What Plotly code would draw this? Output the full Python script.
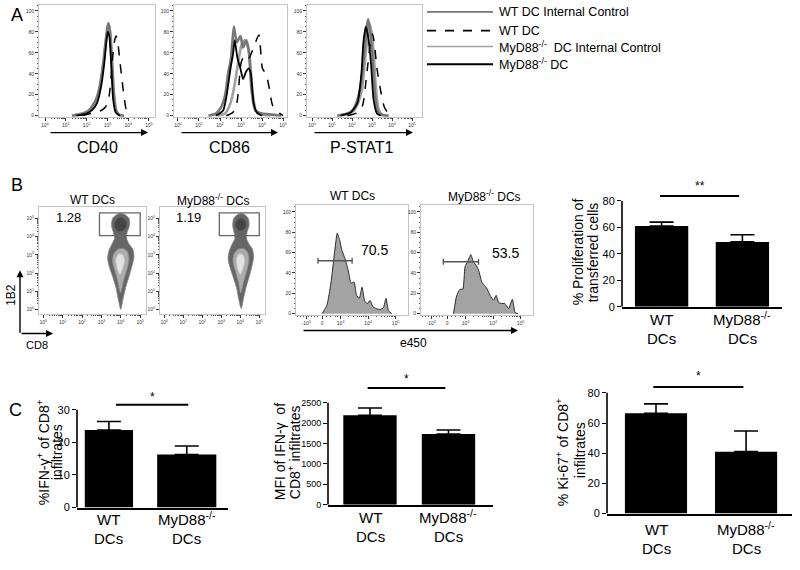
import math
import plotly.graph_objects as go

W, H = 800, 570
FONT = "Liberation Sans, Arial, Helvetica, sans-serif"

# ============================ DATA ============================
legend_names = ["WT DC Internal Control", "WT DC",
                "MyD88<sup>-/-</sup>  DC Internal Control", "MyD88<sup>-/-</sup> DC"]
panelA_markers = ["CD40", "CD86", "P-STAT1"]
decade_labels = ["10<sup>%d</sup>" % k for k in range(6)]
pct_ticks = [0, 20, 40, 60, 80, 100]

# Panel A histograms: x = log10 fluorescence, y = % of max
cd40_wt_ic_x = [1.3, 1.8, 2.1, 2.3, 2.5, 2.65, 2.8, 2.9, 3.0, 3.05, 3.12, 3.2, 3.3, 3.4, 3.55, 3.8]
cd40_wt_ic_y = [0, 2, 5, 10, 18, 30, 50, 68, 84, 88, 80, 55, 22, 6, 1, 0]
cd40_wt_dc_x = [1.8, 2.2, 2.5, 2.7, 2.9, 3.05, 3.15, 3.25, 3.35, 3.42, 3.5, 3.6, 3.7, 3.8, 3.9, 4.0, 4.1]
cd40_wt_dc_y = [0, 2, 4, 5, 8, 15, 30, 55, 72, 76, 70, 52, 35, 18, 6, 1, 0]
cd40_myd_ic_x = [1.3, 1.8, 2.1, 2.3, 2.5, 2.65, 2.8, 2.9, 3.0, 3.08, 3.15, 3.22, 3.32, 3.42, 3.55, 3.8]
cd40_myd_ic_y = [0, 2, 4, 9, 16, 28, 48, 66, 82, 87, 78, 55, 20, 5, 1, 0]
cd40_myd_dc_x = [1.5, 2.0, 2.3, 2.5, 2.7, 2.85, 2.95, 3.02, 3.1, 3.18, 3.28, 3.4, 3.6]
cd40_myd_dc_y = [0, 2, 6, 12, 28, 50, 70, 80, 75, 50, 15, 3, 0]

cd86_wt_ic_x = [1.45, 1.8, 2.05, 2.25, 2.4, 2.53, 2.66, 2.8, 2.97, 3.1, 3.25, 3.37, 3.5, 3.68, 4.0, 4.5, 4.9]
cd86_wt_ic_y = [0, 2, 8, 20, 42, 55, 85, 70, 76, 65, 72, 62, 25, 5, 2, 1, 0]
cd86_wt_dc_x = [2.3, 2.6, 2.75, 2.86, 3.0, 3.17, 3.37, 3.6, 3.85, 4.02, 4.19, 4.36, 4.5, 4.7, 4.86, 5.0]
cd86_wt_dc_y = [0, 3, 7, 20, 50, 58, 55, 65, 77, 45, 40, 25, 10, 5, 2, 0]
cd86_myd_ic_x = [1.9, 2.24, 2.5, 2.7, 2.86, 3.03, 3.17, 3.3, 3.42, 3.54, 3.71, 4.0, 4.4]
cd86_myd_ic_y = [0, 2, 12, 30, 50, 68, 72, 68, 55, 25, 5, 1, 0]
cd86_myd_dc_x = [1.8, 2.15, 2.32, 2.5, 2.63, 2.7, 2.83, 2.97, 3.1, 3.24, 3.37, 3.47, 3.6, 3.76, 4.0]
cd86_myd_dc_y = [0, 5, 20, 45, 60, 72, 55, 45, 35, 42, 45, 40, 12, 3, 0]

ps_wt_ic_x = [1.26, 1.77, 2.02, 2.27, 2.44, 2.61, 2.74, 2.81, 2.91, 3.03, 3.15, 3.28, 3.45, 3.8]
ps_wt_ic_y = [0, 2, 5, 15, 30, 60, 85, 92, 80, 55, 20, 5, 1, 0]
ps_wt_dc_x = [1.77, 2.27, 2.53, 2.74, 2.91, 3.03, 3.11, 3.25, 3.42, 3.62, 3.82, 3.95]
ps_wt_dc_y = [0, 3, 10, 40, 68, 78, 70, 45, 25, 8, 2, 0]
ps_myd_ic_x = [1.3, 1.8, 2.05, 2.3, 2.5, 2.66, 2.8, 2.87, 2.97, 3.08, 3.2, 3.33, 3.5, 3.85]
ps_myd_ic_y = [0, 2, 4, 12, 25, 55, 80, 88, 80, 60, 25, 6, 1, 0]
ps_myd_dc_x = [1.43, 1.94, 2.27, 2.47, 2.57, 2.69, 2.81, 2.95, 3.08, 3.25, 3.45]
ps_myd_dc_y = [0, 3, 12, 40, 70, 85, 75, 50, 15, 2, 0]

# Panel B flow plots (log10 CD8 vs log10 1B2), estimated population outlines
wt_outer_x = [4.0, 4.1, 4.25, 4.42, 4.58, 4.68, 4.62, 4.42, 4.3, 4.32, 4.45, 4.42, 4.22, 4.0, 3.78, 3.58, 3.52, 3.62, 3.68, 3.55, 3.38, 3.32, 3.42, 3.58, 3.75, 3.88, 4.0]
wt_outer_y = [0.0, 0.5, 1.2, 1.8, 2.4, 2.9, 3.3, 3.6, 3.9, 4.2, 4.6, 5.0, 5.2, 5.28, 5.2, 5.0, 4.6, 4.2, 3.9, 3.6, 3.2, 2.8, 2.3, 1.8, 1.2, 0.5, 0.0]
wt_mid_x = [3.98, 4.15, 4.32, 4.42, 4.35, 4.12, 3.85, 3.62, 3.58, 3.7, 3.85, 3.98]
wt_mid_y = [0.9, 1.6, 2.2, 2.75, 3.15, 3.35, 3.3, 3.0, 2.6, 2.1, 1.5, 0.9]
wt_inner_x = [3.95, 4.12, 4.2, 4.1, 3.9, 3.75, 3.78, 3.95]
wt_inner_y = [1.9, 2.3, 2.75, 3.0, 3.05, 2.8, 2.35, 1.9]
wt_clus_x = [3.7, 3.85, 4.05, 4.25, 4.3, 4.2, 4.0, 3.8, 3.68, 3.7]
wt_clus_y = [4.5, 4.3, 4.3, 4.45, 4.7, 4.95, 5.05, 4.95, 4.7, 4.5]

myd_outer_x = [4.05, 4.15, 4.3, 4.47, 4.62, 4.7, 4.64, 4.45, 4.33, 4.35, 4.46, 4.42, 4.24, 4.05, 3.85, 3.66, 3.6, 3.68, 3.72, 3.58, 3.42, 3.36, 3.46, 3.62, 3.8, 3.93, 4.05]
myd_outer_y = [0.05, 0.5, 1.2, 1.8, 2.4, 2.9, 3.3, 3.6, 3.9, 4.2, 4.6, 5.0, 5.2, 5.26, 5.2, 5.0, 4.6, 4.2, 3.9, 3.6, 3.2, 2.8, 2.3, 1.8, 1.2, 0.5, 0.05]
myd_mid_x = [4.02, 4.2, 4.36, 4.46, 4.38, 4.15, 3.88, 3.66, 3.62, 3.74, 3.9, 4.02]
myd_mid_y = [0.9, 1.6, 2.2, 2.75, 3.15, 3.35, 3.3, 3.0, 2.6, 2.1, 1.5, 0.9]
myd_inner_x = [4.0, 4.16, 4.24, 4.14, 3.94, 3.8, 3.82, 4.0]
myd_inner_y = [1.9, 2.3, 2.75, 3.0, 3.05, 2.8, 2.35, 1.9]
myd_clus_x = [3.78, 3.92, 4.1, 4.26, 4.3, 4.2, 4.03, 3.86, 3.76, 3.78]
myd_clus_y = [4.5, 4.35, 4.35, 4.48, 4.7, 4.92, 5.0, 4.92, 4.7, 4.5]

flow_titles = ["WT DCs", "MyD88<sup>-/-</sup> DCs"]
gate_x = [2.9, 5.0]
gate_y = [4.05, 5.3]
gate_pct = ["1.28", "1.19"]

# Panel B proliferation histograms (e450, display units)
e450_tickvals = [-0.25, 0.33, 1, 2, 3]
e450_ticktext = ["-10<sup>3</sup>", "0", "10<sup>3</sup>", "10<sup>4</sup>", "10<sup>5</sup>"]
wt_prolif_x = [0.33, 0.5, 0.65, 0.78, 0.88, 0.97, 1.05, 1.15, 1.28, 1.38, 1.49, 1.58, 1.68, 1.78, 1.88, 1.98, 2.07, 2.17, 2.3, 2.45, 2.56, 2.65, 2.74, 2.86]
wt_prolif_y = [0, 8, 30, 60, 79, 72, 62, 55, 42, 30, 31, 18, 15, 26, 12, 10, 13, 7, 5, 4, 6, 15, 3, 0]
myd_prolif_x = [0.56, 0.68, 0.8, 0.9, 0.98, 1.07, 1.19, 1.28, 1.37, 1.47, 1.59, 1.68, 1.77, 1.89, 2.01, 2.11, 2.2, 2.3, 2.42, 2.56, 2.7, 2.8, 2.9]
myd_prolif_y = [0, 18, 24, 24, 46, 51, 58, 51, 48, 43, 31, 28, 25, 18, 13, 18, 11, 10, 10, 5, 14, 1, 0]
prolif_gate_x = [[0.18, 1.42], [0.19, 1.47]]
prolif_gate_y = [52, 51]
prolif_pct = ["70.5", "53.5"]
prolif_pct_pos = [(2.25, 63), (2.44, 60)]

# Bar charts
bar_categories = [["WT", "DCs"], ["MyD88<sup>-/-</sup>", "DCs"]]
prolif_mean = [61, 49]
prolif_err = [3, 5.4]
ifng_pct_mean = [23.8, 16.3]
ifng_pct_err = [2.6, 2.6]
ifng_mfi_mean = [2190, 1730]
ifng_mfi_err = [180, 100]
ki67_mean = [66.5, 41]
ki67_err = [6.2, 13.7]
sig_labels = ["**", "*", "*", "*"]

# ============================ FIGURE ============================
fig = go.Figure()
layout = dict(width=W, height=H, margin=dict(l=0, r=0, t=0, b=0),
              paper_bgcolor="white", plot_bgcolor="white", showlegend=False,
              font=dict(family=FONT, color="black"))
shapes, annotations = [], []


def dx(l, r):
    return [l / W, r / W]


def dy(t, b):
    return [1 - b / H, 1 - t / H]


def ref(n):
    s = "" if n == 1 else str(n)
    return "x" + s, "y" + s


def name(n):
    s = "" if n == 1 else str(n)
    return "xaxis" + s, "yaxis" + s


log_minor = [d + math.log10(k) for d in range(0, 5) for k in range(2, 10)]


def flow_axis(dom, rng, anchor, tickvals, ticktext, minor_vals=None, minor_dtick=None):
    ax = dict(domain=dom, range=rng, anchor=anchor, showline=True, linecolor="#c4c4c4",
              linewidth=1, mirror=True, ticks="outside", ticklen=3, tickwidth=1,
              tickcolor="#333", tickvals=tickvals, ticktext=ticktext,
              tickfont=dict(size=5, color="#333"), showgrid=False, zeroline=False)
    if minor_vals is not None:
        ax["minor"] = dict(tickvals=minor_vals, ticks="outside", ticklen=1.5, tickcolor="#555")
    if minor_dtick is not None:
        ax["minor"] = dict(dtick=minor_dtick, ticks="outside", ticklen=1.5, tickcolor="#555")
    return ax


def text(x, y, t, size, angle=0, xa="center", ya="middle", color="black"):
    annotations.append(dict(x=x / W, y=1 - y / H, xref="paper", yref="paper", text=t,
                            showarrow=False, font=dict(size=size, color=color, family=FONT),
                            xanchor=xa, yanchor=ya, textangle=angle, borderpad=0))


def arrow(x0, y0, x1, y1):
    annotations.append(dict(x=x1 / W, y=1 - y1 / H, xref="paper", yref="paper", text="",
                            showarrow=True, ax=x0 - x1, ay=y0 - y1, arrowhead=2,
                            arrowsize=1, arrowwidth=1.4, arrowcolor="black"))


# ---------------- Panel A ----------------
series_colors = ["#777777", "#000000", "#a0a0a0", "#000000"]
series_dash = ["solid", "dash", "solid", "solid"]
series_width = [2.6, 1.5, 2.6, 1.8]
draw_order = [2, 0, 1, 3]

panelA_data = [
    [(cd40_wt_ic_x, cd40_wt_ic_y), (cd40_wt_dc_x, cd40_wt_dc_y), (cd40_myd_ic_x, cd40_myd_ic_y), (cd40_myd_dc_x, cd40_myd_dc_y)],
    [(cd86_wt_ic_x, cd86_wt_ic_y), (cd86_wt_dc_x, cd86_wt_dc_y), (cd86_myd_ic_x, cd86_myd_ic_y), (cd86_myd_dc_x, cd86_myd_dc_y)],
    [(ps_wt_ic_x, ps_wt_ic_y), (ps_wt_dc_x, ps_wt_dc_y), (ps_myd_ic_x, ps_myd_ic_y), (ps_myd_dc_x, ps_myd_dc_y)],
]
A_boxes = [(39, 155, [-0.29, 5.29]), (174, 287, [-0.19, 5.19]), (307, 422, [-0.25, 5.5])]
A_arrows = [(49, 148), (180, 278), (313, 413)]
A_label_x = [97, 230, 362]

for i in range(3):
    n = i + 1
    xn, yn = name(n)
    xr, yr = ref(n)
    l, r, xrange_ = A_boxes[i]
    layout[xn] = flow_axis(dx(l, r), xrange_, yr, list(range(6)), decade_labels, minor_vals=log_minor)
    layout[yn] = flow_axis(dy(5, 118), [-1, 105.6], xr, pct_ticks, [str(v) for v in pct_ticks], minor_dtick=5)
    for s in draw_order:
        xs, ys = panelA_data[i][s]
        fig.add_trace(go.Scatter(x=xs, y=ys, mode="lines", xaxis=xr, yaxis=yr,
                                 line=dict(color=series_colors[s], width=series_width[s],
                                           dash=series_dash[s], shape="spline", smoothing=0.6),
                                 hoverinfo="skip"))
    arrow(A_arrows[i][0], 134, A_arrows[i][1], 134)
    text(A_label_x[i], 149, panelA_markers[i], 16)

# legend for panel A
leg_y = [12, 31, 47, 65]
for s in range(4):
    shapes.append(dict(type="line", xref="paper", yref="paper", x0=427 / W, x1=493 / W,
                       y0=1 - leg_y[s] / H, y1=1 - leg_y[s] / H,
                       line=dict(color=series_colors[s], width=1.6 if s != 3 else 2,
                                 dash="dash" if s == 1 else "solid")))
    text(498, leg_y[s], legend_names[s], 12.5, xa="left")

text(17, 15, "A", 18)
text(17, 187, "B", 18)
text(15, 414, "C", 18)

# ---------------- Panel B flow dot plots ----------------
flow_sets = [
    (wt_outer_x, wt_outer_y, wt_mid_x, wt_mid_y, wt_inner_x, wt_inner_y, wt_clus_x, wt_clus_y),
    (myd_outer_x, myd_outer_y, myd_mid_x, myd_mid_y, myd_inner_x, myd_inner_y, myd_clus_x, myd_clus_y),
]
flow_boxes = [(39, 146), (160, 265)]
flow_title_x = [92, 213]
for i in range(2):
    n = 4 + i
    xn, yn = name(n)
    xr, yr = ref(n)
    l, r = flow_boxes[i]
    layout[xn] = flow_axis(dx(l, r), [-0.22, 5.3], yr, list(range(6)), decade_labels, minor_vals=log_minor)
    layout[yn] = flow_axis(dy(209, 317), [-0.23, 5.63], xr, list(range(6)), decade_labels, minor_vals=log_minor)
    ox, oy, mx, my, ix, iy, cx, cy = flow_sets[i]
    for xs, ys, fc, lc in [(ox, oy, "#666666", "#8a8a8a"), (cx, cy, "#444444", "#555555"),
                           (mx, my, "#ababab", "#8c8c8c"), (ix, iy, "#e2e2e2", "#bdbdbd")]:
        fig.add_trace(go.Scatter(x=xs, y=ys, mode="lines", fill="toself", fillcolor=fc,
                                 line=dict(color=lc, width=0.8, shape="spline", smoothing=0.8),
                                 xaxis=xr, yaxis=yr, hoverinfo="skip"))
    shapes.append(dict(type="rect", xref=xr, yref=yr, x0=gate_x[0], x1=gate_x[1],
                       y0=gate_y[0], y1=gate_y[1], line=dict(color="#666", width=1.3)))
    annotations.append(dict(x=1.3, y=5.05, xref=xr, yref=yr, text=gate_pct[i], showarrow=False,
                            font=dict(size=13, family=FONT, color="black")))
    text(flow_title_x[i], 202, flow_titles[i], 12)

arrow(20, 337, 20, 273)
arrow(20, 337, 53, 337)
text(11, 298, "1B2", 12, angle=-90)
text(37, 349, "CD8", 11)

# ---------------- Panel B proliferation histograms ----------------
e450_minor = [1 + math.log10(k) for k in range(2, 10)] + [2 + math.log10(k) for k in range(2, 10)] + \
             [-0.55, -0.45, -0.35, -0.15, -0.05, 0.05, 0.15, 0.5, 0.65, 0.8, 0.9]
prolif_sets = [(wt_prolif_x, wt_prolif_y), (myd_prolif_x, myd_prolif_y)]
prolif_boxes = [(296, 408), (421, 533)]
prolif_title_x = [352, 485]
for i in range(2):
    n = 6 + i
    xn, yn = name(n)
    xr, yr = ref(n)
    l, r = prolif_boxes[i]
    layout[xn] = flow_axis(dx(l, r), [-0.62, 3.45], yr, e450_tickvals, e450_ticktext, minor_vals=e450_minor)
    layout[yn] = flow_axis(dy(207, 318), [-1, 107], xr, pct_ticks, [str(v) for v in pct_ticks], minor_dtick=5)
    xs, ys = prolif_sets[i]
    fig.add_trace(go.Scatter(x=xs, y=ys, mode="lines", fill="tozeroy", fillcolor="#a3a3a3",
                             line=dict(color="#2a2a2a", width=1, shape="spline", smoothing=0.5),
                             xaxis=xr, yaxis=yr, hoverinfo="skip"))
    g0, g1 = prolif_gate_x[i]
    gy = prolif_gate_y[i]
    fig.add_trace(go.Scatter(x=[g0, g0, g0, g1, g1, g1], y=[gy - 3, gy + 3, gy, gy, gy + 3, gy - 3],
                             mode="lines", line=dict(color="#555", width=1.3),
                             xaxis=xr, yaxis=yr, hoverinfo="skip"))
    px_, py_ = prolif_pct_pos[i]
    annotations.append(dict(x=px_, y=py_, xref=xr, yref=yr, text=prolif_pct[i], showarrow=False,
                            font=dict(size=14, family=FONT, color="black")))
    text(prolif_title_x[i], 198, flow_titles[i], 12)

arrow(302, 334, 518, 334)
text(413, 347, "e450", 12)

# ---------------- Bar charts ----------------
bar_specs = [
    dict(n=8, lr=(622, 782), tb=(183, 310), xr=[-0.49, 1.49], yr=[0, 95], ticks=[0, 20, 40, 60, 80],
         tfs=11, mean=prolif_mean, err=prolif_err, widths=[0.66, 0.66], sx=[-0.02, 0.96], sy=83.7,
         stary=91.5, sig=sig_labels[0], lab=(324, 17),
         titles=[(578, 255, "% Proliferation of"), (593, 255, "transferred cells")]),
    dict(n=9, lr=(77, 228), tb=(395, 513), xr=[-0.41, 1.53], yr=[0, 35.8], ticks=[0, 10, 20, 30],
         tfs=11, mean=ifng_pct_mean, err=ifng_pct_err, widths=[0.62, 0.76], sx=[0.09, 1.02], sy=31.5,
         stary=34.0, sig=sig_labels[1], lab=(527, 16),
         titles=[(43, 457, "%IFN-γ<sup>+</sup> of CD8<sup>+</sup>"), (57, 457, "infiltrates")]),
    dict(n=10, lr=(328, 493), tb=(375, 510), xr=[-0.535, 1.567], yr=[0, 3277],
         ticks=[0, 500, 1000, 1500, 2000, 2500], tfs=9, mean=ifng_mfi_mean, err=ifng_mfi_err,
         widths=[0.68, 0.68], sx=[-0.03, 0.96], sy=2864, stary=3090, sig=sig_labels[2], lab=(524, 18),
         titles=[(280, 457, "MFI of IFN-γ  of"), (294, 457, "CD8<sup>+</sup> infiltrates")]),
    dict(n=11, lr=(607, 792), tb=(372, 519), xr=[-0.544, 1.51], yr=[0, 96.4], ticks=[0, 20, 40, 60, 80],
         tfs=11, mean=ki67_mean, err=ki67_err, widths=[0.69, 0.69], sx=[-0.03, 0.97], sy=83.9,
         stary=91.0, sig=sig_labels[3], lab=(537, 16),
         titles=[(562, 457, "% Ki-67<sup>+</sup> of CD8<sup>+</sup>"), (580, 455, "infiltrates")]),
]

for sp in bar_specs:
    n = sp["n"]
    xn, yn = name(n)
    xr, yr = ref(n)
    l, r = sp["lr"]
    t, b = sp["tb"]
    layout[xn] = dict(domain=dx(l, r), range=sp["xr"], anchor=yr, showline=True, linecolor="black",
                      linewidth=1.6, ticks="", showticklabels=False, showgrid=False, zeroline=False)
    layout[yn] = dict(domain=dy(t, b), range=sp["yr"], anchor=xr, showline=False, ticks="outside",
                      ticklen=4, tickwidth=1.4, tickcolor="black", tickvals=sp["ticks"],
                      tickfont=dict(size=sp["tfs"], family=FONT), showgrid=False, zeroline=False)
    fig.add_trace(go.Bar(x=[0, 1], y=sp["mean"], width=sp["widths"], xaxis=xr, yaxis=yr,
                         marker=dict(color="black", line=dict(width=0)),
                         error_y=dict(type="data", array=sp["err"], arrayminus=[0, 0],
                                      symmetric=False, color="black", thickness=1.6, width=12),
                         hoverinfo="skip"))
    shapes.append(dict(type="line", xref=xr + " domain", yref=yr, x0=0, x1=0, y0=0,
                       y1=sp["ticks"][-1], line=dict(color="black", width=1.6)))
    shapes.append(dict(type="line", xref=xr, yref=yr, x0=sp["sx"][0], x1=sp["sx"][1],
                       y0=sp["sy"], y1=sp["sy"], line=dict(color="black", width=2)))
    annotations.append(dict(x=(sp["sx"][0] + sp["sx"][1]) / 2, y=sp["stary"], xref=xr, yref=yr,
                            text=sp["sig"], showarrow=False, yanchor="middle",
                            font=dict(size=12, family=FONT, color="black")))
    # category labels (two lines each): first line sits above, second below a shared edge
    y0, dl = sp["lab"]
    edge = y0 + dl / 2.0
    for ci, lines in enumerate(bar_categories):
        for li, line in enumerate(lines):
            annotations.append(dict(x=ci, y=1 - edge / H, xref=xr, yref="paper",
                                    text=line, showarrow=False, xanchor="center",
                                    yanchor="bottom" if li == 0 else "top", borderpad=0,
                                    font=dict(size=15, family=FONT, color="black")))
    for tx, ty, tt in sp["titles"]:
        text(tx, ty, tt, 14, angle=-90)

layout["shapes"] = shapes
layout["annotations"] = annotations
fig.update_layout(**layout)
fig.write_html("out.html", config={"displayModeBar": False},
               post_script="document.body.style.margin='0px';document.body.style.padding='0px';")
